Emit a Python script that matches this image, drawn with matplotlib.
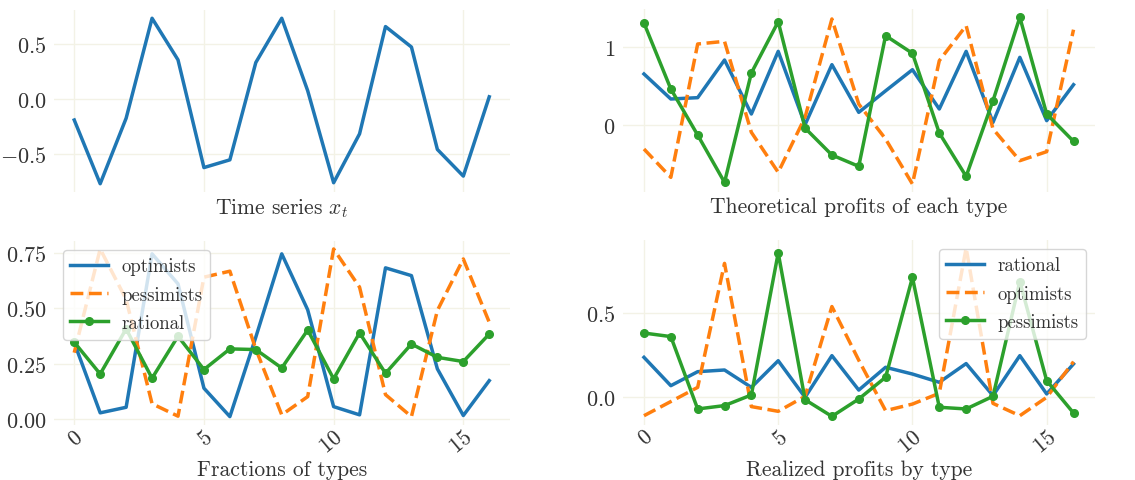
import numpy as np
import matplotlib
matplotlib.use("Agg")
import matplotlib.pyplot as plt

# time axis
t = np.arange(17)

# time series x_t
x_series = [-0.19, -0.766, -0.174, 0.73, 0.354, -0.62, -0.55, 0.33, 0.73, 0.075,
            -0.757, -0.315, 0.655, 0.47, -0.456, -0.697, 0.02]

# theoretical profits of each type
theo_blue = [0.657, 0.335, 0.352, 0.837, 0.142, 0.948, 0.004, 0.777, 0.163, 0.44,
             0.712, 0.206, 0.948, 0.034, 0.871, 0.056, 0.519]
theo_orange = [-0.309, -0.674, 1.043, 1.077, -0.094, -0.609, 0.1, 1.365, 0.27, -0.18,
               -0.76, 0.828, 1.279, -0.05, -0.459, -0.343, 1.227]
theo_green = [1.313, 0.464, -0.129, -0.738, 0.67, 1.33, -0.039, -0.386, -0.532, 1.15,
              0.923, -0.103, -0.661, 0.313, 1.386, 0.142, -0.21]

# fractions of types
frac_optimists = [0.345, 0.029, 0.054, 0.745, 0.61, 0.14, 0.012, 0.37, 0.745, 0.493,
                  0.057, 0.02, 0.682, 0.647, 0.227, 0.017, 0.174]
frac_pessimists = [0.30, 0.767, 0.54, 0.07, 0.014, 0.64, 0.667, 0.316, 0.02, 0.102,
                   0.767, 0.595, 0.111, 0.012, 0.49, 0.722, 0.437]
frac_rational = [0.347, 0.204, 0.407, 0.185, 0.374, 0.224, 0.317, 0.314, 0.231, 0.402,
                 0.182, 0.389, 0.207, 0.339, 0.279, 0.26, 0.384]

# realized profits by type
real_rational = [0.237, 0.069, 0.152, 0.162, 0.059, 0.217, 0.0, 0.247, 0.043, 0.178,
                 0.138, 0.089, 0.2, 0.01, 0.247, 0.02, 0.198]
real_optimists = [-0.109, -0.025, 0.059, 0.794, -0.055, -0.083, 0.006, 0.538, 0.22, -0.079,
                  -0.04, 0.024, 0.885, -0.036, -0.109, 0.0, 0.211]
real_pessimists = [0.381, 0.36, -0.069, -0.049, 0.014, 0.856, -0.014, -0.113, -0.01, 0.119,
                   0.711, -0.059, -0.069, 0.006, 0.686, 0.099, -0.093]

plt.rcParams["font.family"] = "serif"
plt.rcParams["font.serif"] = ["cmr10"]
plt.rcParams["mathtext.fontset"] = "cm"
plt.rcParams["axes.formatter.use_mathtext"] = True
plt.rcParams["axes.unicode_minus"] = True

txt = "#333333"
gridc = "#f3f2e6"
lw = 2.5
blue, orange, green = "#1f77b4", "#ff7f0e", "#2ca02c"

fig = plt.figure(figsize=(11.35, 4.81), dpi=100)
W, H = 1135.0, 481.0

def place(l, r, top, bot):
    return [l / W, 1 - bot / H, (r - l) / W, (bot - top) / H]

ax1 = fig.add_axes(place(53.5, 510, 11, 193))
ax2 = fig.add_axes(place(622.5, 1095, 10, 193.4))
ax3 = fig.add_axes(place(53.5, 510, 241.6, 426))
ax4 = fig.add_axes(place(622.5, 1095, 240.6, 425.8))

ax1.plot(t, x_series, color=blue, lw=lw)

ax2.plot(t, theo_blue, color=blue, lw=lw)
ax2.plot(t, theo_orange, color=orange, lw=lw, ls="--")
ax2.plot(t, theo_green, color=green, lw=lw, marker="o", ms=5.5)

ax3.plot(t, frac_optimists, color=blue, lw=lw, label="optimists")
ax3.plot(t, frac_pessimists, color=orange, lw=lw, ls="--", label="pessimists")
ax3.plot(t, frac_rational, color=green, lw=lw, marker="o", ms=5.5, label="rational")

ax4.plot(t, real_rational, color=blue, lw=lw, label="rational")
ax4.plot(t, real_optimists, color=orange, lw=lw, ls="--", label="optimists")
ax4.plot(t, real_pessimists, color=green, lw=lw, marker="o", ms=5.5, label="pessimists")

labels = ["Time series $x_t$", "Theoretical profits of each type",
          "Fractions of types", "Realized profits by type"]
for ax, lab in zip([ax1, ax2, ax3, ax4], labels):
    ax.set_xlim(-0.8, 16.8)
    ax.set_xticks([0, 5, 10, 15])
    ax.grid(True, color=gridc, lw=1)
    ax.set_axisbelow(True)
    for s in ax.spines.values():
        s.set_visible(False)
    ax.tick_params(length=0, labelsize=16, colors=txt, pad=5)
    ax.set_xlabel(lab, fontsize=15.5, color=txt, labelpad=3)

ax1.set_yticks([-0.5, 0.0, 0.5])
ax2.set_yticks([0, 1])
ax3.set_yticks([0.0, 0.25, 0.5, 0.75])
ax4.set_yticks([0.0, 0.5])
ax1.tick_params(labelbottom=False)
ax2.tick_params(labelbottom=False)
for ax in [ax3, ax4]:
    ax.tick_params(axis="x", pad=1)
    ax.xaxis.labelpad = 2
    for lb in ax.get_xticklabels():
        lb.set_rotation(40)
        lb.set_ha("right")
        lb.set_rotation_mode("anchor")

for ax, loc in [(ax3, "upper left"), (ax4, "upper right")]:
    leg = ax.legend(loc=loc, fontsize=13.5, framealpha=0.8, edgecolor="#cccccc",
                    borderaxespad=0.5, handlelength=2.0, handletextpad=0.7,
                    borderpad=0.4, labelspacing=0.55)
    for tx in leg.get_texts():
        tx.set_color(txt)

fig.savefig("out.png", dpi=100)
